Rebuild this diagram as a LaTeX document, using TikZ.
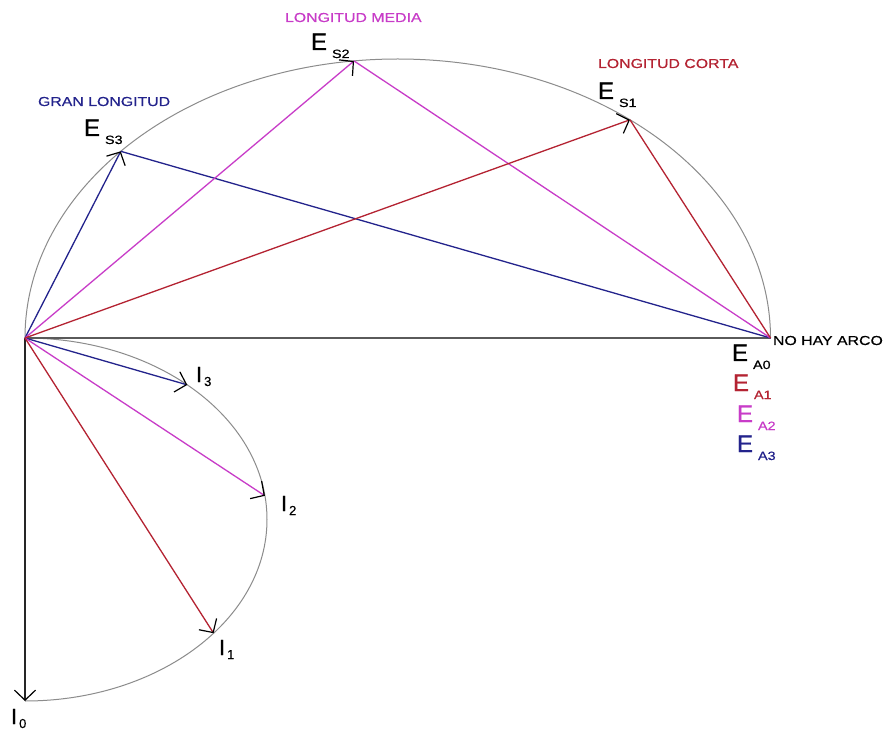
\documentclass[tikz,border=0pt]{standalone}
\usepackage{fontspec}
\setmainfont{Liberation Sans}
\newfontfamily\heavyfont[FakeBold=0.8]{Liberation Sans}
\newfontfamily\midfont[FakeBold=0.4]{Liberation Sans}
\usetikzlibrary{arrows.meta,calc}
\definecolor{navyc}{RGB}{35,35,140}
\definecolor{magc}{RGB}{200,60,200}
\definecolor{redc}{RGB}{180,35,50}
\definecolor{arcc}{RGB}{140,140,140}
\definecolor{axisc}{RGB}{90,90,90}
\newcommand{\Elab}[1]{\heavyfont\fontsize{24}{24}\selectfont E\kern5pt\raisebox{-8pt}{\midfont\fontsize{12}{12}\selectfont\scalebox{1.2}[1]{#1}}}
\newcommand{\Ilab}[1]{\heavyfont\fontsize{22}{22}\selectfont I\kern2pt\raisebox{-4pt}{\midfont\fontsize{13}{13}\selectfont #1}}
\newcommand{\smalltxt}[1]{\midfont\fontsize{13}{13}\selectfont\scalebox{1.22}[1]{#1}}
\tikzset{
  vec/.style={line width=1.3pt, -{Straight Barb[length=10pt,width=21pt,color=black,line width=1.2pt]}},
  seg/.style={line width=1.3pt},
  arcline/.style={draw=arcc, line width=1pt},
  lab/.style={anchor=base west, inner sep=0pt, outer sep=0pt},
}
\begin{document}
\begin{tikzpicture}[x=1pt,y=1pt]
\useasboundingbox (0,0) rectangle (886,732);
\fill[white] (0,0) rectangle (886,732);
% key points
\coordinate (O) at (25,394);
\coordinate (C1) at (397.75,394);
\coordinate (C2) at (25,212.5);
\coordinate (EA0) at ($(C1)+(0:372.75 and 279)$);
\coordinate (ES3) at ($(C1)+(138:372.75 and 279)$);
\coordinate (ES2) at ($(C1)+(96.74:372.75 and 279)$);
\coordinate (ES1) at ($(C1)+(51.46:372.75 and 279)$);
\coordinate (I3) at ($(C2)+(47.87:242 and 181.5)$);
\coordinate (I2) at ($(C2)+(7.5:242 and 181.5)$);
\coordinate (I1) at ($(C2)+(-38.8:242 and 181.5)$);
\coordinate (I0) at ($(C2)+(-90:242 and 181.5)$);
% arcs
\draw[arcline] (O) arc[start angle=180, end angle=0, x radius=372.75, y radius=279];
\draw[arcline] (O) arc[start angle=90, end angle=-90, x radius=242, y radius=181.5];
% axis
\draw[draw=axisc, line width=1.3pt] (O) -- (EA0);
\draw[vec, draw=black!85] (O) -- (I0);
% blue
\draw[vec, draw=navyc] (O) -- (ES3);
\draw[seg, draw=navyc] (ES3) -- (EA0);
\draw[vec, draw=navyc] (O) -- (I3);
% magenta
\draw[vec, draw=magc] (O) -- (ES2);
\draw[seg, draw=magc] (ES2) -- (EA0);
\draw[vec, draw=magc] (O) -- (I2);
% red
\draw[vec, draw=redc] (O) -- (ES1);
\draw[seg, draw=redc] (ES1) -- (EA0);
\draw[vec, draw=redc] (O) -- (I1);
% labels
\node[lab] (lES3) at (84,596) {\Elab{S3}};
\node[lab] (lES2) at (311,682) {\Elab{S2}};
\node[lab] (lES1) at (598,633) {\Elab{S1}};
\node[lab] (lEA0) at (732,371) {\Elab{A0}};
\node[lab, text=redc] (lEA1) at (733,341) {\Elab{A1}};
\node[lab, text=magc] (lEA2) at (737,310) {\Elab{A2}};
\node[lab, text=navyc] (lEA3) at (737,280) {\Elab{A3}};
\node[lab] (lI3) at (196,350) {\Ilab{3}};
\node[lab] (lI2) at (281,221) {\Ilab{2}};
\node[lab] (lI1) at (219,77) {\Ilab{1}};
\node[lab] (lI0) at (11,8) {\Ilab{0}};
\node[lab, text=navyc] (tGran) at (38,626) {\smalltxt{GRAN LONGITUD}};
\node[lab, text=magc] (tMedia) at (285,710) {\smalltxt{LONGITUD MEDIA}};
\node[lab, text=redc] (tCorta) at (598,664) {\smalltxt{LONGITUD CORTA}};
\node[lab] (tNoHay) at (773,387) {\smalltxt{NO HAY ARCO}};
\end{tikzpicture}
\end{document}
